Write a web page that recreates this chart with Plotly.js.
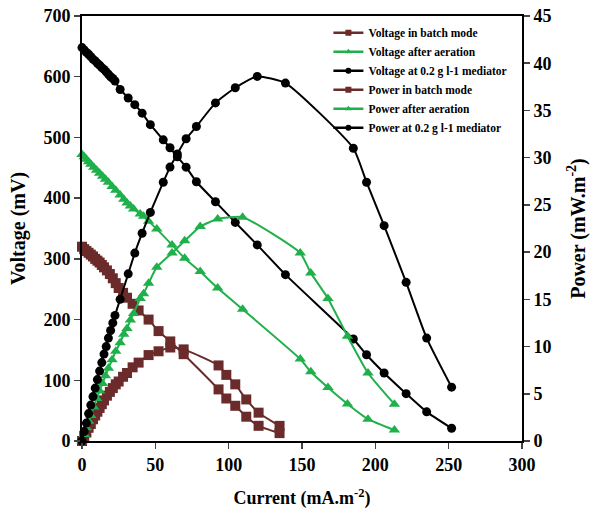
<!DOCTYPE html>
<html>
<head>
<meta charset="utf-8">
<script src="https://cdn.plot.ly/plotly-3.0.1.min.js"></script>
<style>html,body{margin:0;padding:0;background:#fff;}#chart{width:594px;height:513px;}</style>
</head>
<body>
<div id="chart"></div>
<script>
// Batch mode (brown squares)
const batchCurrent = [0, 1.5, 3, 4.5, 6, 7.5, 9, 10.5, 12, 13.5, 15, 17, 19, 21, 23, 25, 28, 30.7, 34.5, 38.6, 45.4, 52.2, 60.2, 69.3, 93.1, 98.4, 104.5, 112, 120.4, 134.7];
const batchVoltage = [320, 316, 313, 310, 307, 304, 300, 297, 294, 290, 286, 281, 275, 268, 260, 252, 244, 236, 226, 215, 200, 181, 164, 143, 85, 70, 58, 40, 25, 13];
const batchPower   = [0, 0.5, 0.9, 1.4, 1.8, 2.3, 2.7, 3.1, 3.5, 3.9, 4.3, 4.8, 5.2, 5.6, 6.0, 6.3, 6.8, 7.2, 7.8, 8.3, 9.1, 9.5, 9.9, 9.7, 8.0, 7.0, 6.0, 4.4, 3.0, 1.6];

// After aeration (green triangles)
const aerCurrent = [0, 1.5, 3, 4.5, 6, 8, 10, 12, 14, 16, 18, 20.5, 23, 26, 28.5, 30.7, 33, 35.2, 39.7, 42, 45.4, 51, 61.4, 70, 80.6, 92.5, 109.5, 148.8, 156, 167.7, 181, 195, 213];
const aerVoltage = [472, 468, 464, 460, 456, 451, 446, 441, 436, 431, 426, 419, 413, 405, 398, 392, 387, 382, 374, 370, 362, 349, 323, 301, 279, 252, 217, 135, 114, 88, 61, 36, 18];
const aerPower   = [0, 0.7, 1.4, 2.1, 2.7, 3.6, 4.5, 5.3, 6.1, 6.9, 7.7, 8.6, 9.5, 10.4, 11.3, 11.9, 12.8, 13.5, 15.1, 15.6, 16.7, 18.4, 19.9, 21.2, 22.7, 23.5, 23.7, 19.9, 17.8, 15.1, 11.1, 7.2, 3.9];

// 0.2 g l-1 mediator (black circles)
const medCurrent = [0, 1.5, 3, 4.5, 6, 7.5, 9, 10.5, 12, 13.5, 15, 16.5, 18, 19.5, 21, 22.5, 26, 31.5, 36, 41, 46.6, 55.4, 60, 65, 71, 78, 91, 104.5, 119.5, 138.7, 185, 194, 206, 221, 235, 252];
const medVoltage = [648, 644, 640, 637, 633, 629, 626, 622, 619, 615, 612, 608, 604, 600, 597, 593, 579, 565, 554, 540, 521, 496, 483, 468, 451, 427, 394, 360, 323, 274, 168, 142, 112, 78, 48, 21];
const medPower   = [0, 1.0, 1.9, 2.9, 3.8, 4.7, 5.6, 6.5, 7.4, 8.3, 9.2, 10.0, 10.9, 11.7, 12.5, 13.3, 15.0, 17.7, 19.9, 22.0, 24.2, 27.4, 29.0, 30.4, 32.0, 33.3, 35.8, 37.4, 38.6, 37.9, 31.0, 27.4, 22.8, 16.8, 10.9, 5.7];

const seriesNames = ["Voltage in batch mode", "Voltage after aeration", "Voltage at 0.2 g l-1 mediator",
                     "Power in batch mode", "Power after aeration", "Power at 0.2 g l-1 mediator"];

const BROWN = "#6b2b2b", GREEN = "#1fb04c", BLACK = "#000000";
const serif = "Liberation Serif, Times New Roman, serif";

function tr(name, x, y, color, symbol, size, axis) {
  return {
    type: "scatter", mode: "lines+markers", name: name, x: x, y: y, yaxis: axis,
    showlegend: false,
    line: {color: color, width: 2, shape: "spline", smoothing: 0.5},
    marker: {color: color, symbol: symbol, size: size},
    cliponaxis: false
  };
}
function legendEntry(name, color, symbol) {
  return {
    type: "scatter", mode: "lines+markers", name: name, x: [null], y: [null],
    showlegend: true,
    line: {color: color, width: 2.5},
    marker: {color: color, symbol: symbol, size: 6}
  };
}

const data = [
  tr(seriesNames[0], batchCurrent, batchVoltage, BROWN, "square", 10, "y"),
  tr(seriesNames[1], aerCurrent, aerVoltage, GREEN, "triangle-up", 10, "y"),
  tr(seriesNames[2], medCurrent, medVoltage, BLACK, "circle", 9, "y"),
  tr(seriesNames[3], batchCurrent, batchPower, BROWN, "square", 10, "y2"),
  tr(seriesNames[4], aerCurrent, aerPower, GREEN, "triangle-up", 10, "y2"),
  tr(seriesNames[5], medCurrent, medPower, BLACK, "circle", 9, "y2"),
  legendEntry(seriesNames[0], BROWN, "square"),
  legendEntry(seriesNames[1], GREEN, "triangle-up"),
  legendEntry(seriesNames[2], BLACK, "circle"),
  legendEntry(seriesNames[3], BROWN, "square"),
  legendEntry(seriesNames[4], GREEN, "triangle-up"),
  legendEntry(seriesNames[5], BLACK, "circle")
];

const tickFont = {family: serif, size: 18, color: "#000", weight: "bold"};
const titleFont = {family: serif, size: 20, color: "#000", weight: "bold"};

const layout = {
  width: 594, height: 513,
  margin: {l: 82, r: 72, t: 16, b: 72},
  paper_bgcolor: "#fff", plot_bgcolor: "#fff",
  showlegend: true,
  legend: {x: 0.56, y: 0.995, xanchor: "left", yanchor: "top", bgcolor: "rgba(0,0,0,0)",
           font: {family: serif, size: 11.5, color: "#000", weight: "bold"}, tracegroupgap: 0, itemwidth: 30},
  xaxis: {range: [0, 300], dtick: 50, tick0: 0, ticks: "outside", ticklen: 6, tickwidth: 1.5,
          showline: true, linewidth: 2, linecolor: "#000", mirror: true, showgrid: false, zeroline: false,
          tickfont: tickFont,
          title: {text: "Current (mA.m<sup>-2</sup>)", font: {family: serif, size: 18, color: "#000", weight: "bold"}, standoff: 18}},
  yaxis: {range: [0, 700], dtick: 100, tick0: 0, ticks: "outside", ticklen: 6, tickwidth: 1.5,
          showline: true, linewidth: 2, linecolor: "#000", showgrid: false, zeroline: false,
          tickfont: tickFont, title: {text: "Voltage (mV)", font: titleFont, standoff: 12}},
  yaxis2: {range: [0, 45], dtick: 5, tick0: 0, ticks: "outside", ticklen: 6, tickwidth: 1.5,
           overlaying: "y", side: "right", showline: true, linewidth: 2, linecolor: "#000",
           showgrid: false, zeroline: false,
           tickfont: tickFont, title: {text: "Power (mW.m<sup>-2</sup>)", font: titleFont, standoff: 20}}
};

Plotly.newPlot("chart", data, layout, {displayModeBar: false, staticPlot: true});
</script>
</body>
</html>
